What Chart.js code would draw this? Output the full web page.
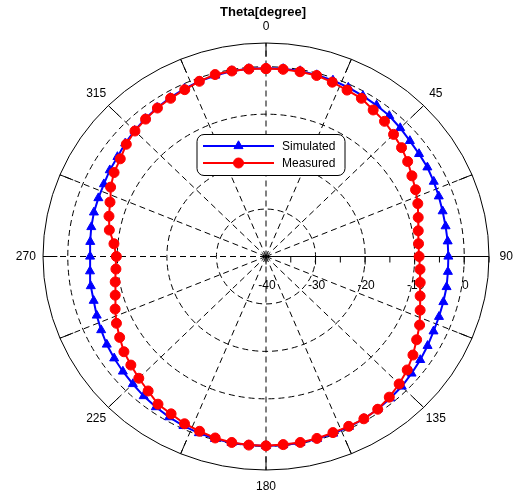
<!DOCTYPE html>
<html>
<head>
<meta charset="utf-8">
<script src="https://cdn.jsdelivr.net/npm/chart.js@4/dist/chart.umd.min.js"></script>
<style>
  html, body { margin: 0; padding: 0; background: #fff; }
  #wrap { width: 517px; height: 496px; }
</style>
</head>
<body>
<div id="wrap"><canvas id="c" width="517" height="496"></canvas></div>
<script>
// Azimuth angles (degrees, clockwise from top)
const angles = [
  0, 5, 10, 15, 20, 25, 30, 35, 40, 45, 50, 55, 60, 65, 70, 75, 80, 85,
  90, 95, 100, 105, 110, 115, 120, 125, 130, 135, 140, 145, 150, 155, 160, 165, 170, 175,
  180, 185, 190, 195, 200, 205, 210, 215, 220, 225, 230, 235, 240, 245, 250, 255, 260, 265,
  270, 275, 280, 285, 290, 295, 300, 305, 310, 315, 320, 325, 330, 335, 340, 345, 350, 355
];

// Normalized pattern (dB)
const simulated = [
  -0.3, -0.3, -0.3, -0.4, -0.5, -0.7, -0.9, -1.1, -1.3, -1.7, -2.1, -2.3, -2.4, -2.65, -2.9, -3.1, -3.2, -3.2,
  -3.2, -3.15, -3.0, -2.95, -2.85, -2.7, -2.35, -2.0, -1.65, -1.25, -1.0, -0.7, -0.5, -0.4, -0.3, -0.2, -0.1, -0.1,
  -0.05, -0.1, -0.1, -0.2, -0.4, -0.6, -0.9, -1.25, -1.6, -2.0, -2.3, -2.6, -2.9, -3.3, -3.65, -4.0, -4.1, -4.35,
  -4.5, -4.4, -4.2, -4.05, -4.0, -3.9, -3.6, -3.4, -2.9, -2.5, -2.1, -1.7, -1.35, -1.0, -0.7, -0.5, -0.3, -0.3
];
const measured = [
  -0.4, -0.4, -0.45, -0.5, -0.9, -1.3, -1.5, -2.3, -2.8, -3.6, -4.3, -5.1, -6.0, -6.7, -7.4, -8.2, -8.8, -9.1,
  -9.1, -8.8, -8.4, -7.8, -6.9, -5.8, -4.9, -3.8, -2.8, -2.0, -1.3, -0.7, -0.5, -0.5, -0.5, -0.3, -0.2, -0.2,
  -0.1, -0.1, -0.2, -0.4, -0.8, -1.1, -1.7, -2.0, -3.0, -3.7, -4.4, -5.0, -5.9, -6.7, -7.6, -8.5, -9.1, -9.6,
  -9.8, -9.2, -7.9, -7.2, -6.5, -5.4, -4.6, -4.1, -3.2, -2.6, -2.2, -1.8, -1.5, -1.2, -0.7, -0.3, -0.3, -0.35
];

// Radial axis (dB) and angular axis labels
const radialTicks = [-40, -30, -20, -10, 0];
const radialMinorTicks = [-35, -25, -15, -5, 5];
const angleLabels = [0, 45, 90, 135, 180, 225, 270, 315];
const outerTickAngles = [0, 22.5, 45, 67.5, 90, 112.5, 135, 157.5, 180, 202.5, 225, 247.5, 270, 292.5, 315, 337.5];
const spokeAngles = outerTickAngles;
const R_MIN = -40, R_MAX = 5;
const SPAN = R_MAX - R_MIN;

// polar (angle, dB) -> cartesian data coordinates
function polar(deg, db) {
  const r = db - R_MIN;
  const a = deg * Math.PI / 180;
  return { x: r * Math.sin(a), y: r * Math.cos(a) };
}
function closedSeries(values) {
  const pts = angles.map((a, i) => polar(a, values[i]));
  pts.push(pts[0]);
  return pts;
}

const polarFrame = {
  id: 'polarFrame',
  beforeDatasetsDraw(chart) {
    const ctx = chart.ctx;
    const xs = chart.scales.x, ys = chart.scales.y;
    const cx = xs.getPixelForValue(0), cy = ys.getPixelForValue(0);
    const px = (deg, r) => {
      const a = deg * Math.PI / 180;
      return [xs.getPixelForValue(r * Math.sin(a)), ys.getPixelForValue(r * Math.cos(a))];
    };
    const rx = r => xs.getPixelForValue(r) - cx;
    const ry = r => cy - ys.getPixelForValue(r);

    ctx.save();
    ctx.strokeStyle = '#000';
    ctx.lineWidth = 1;

    // dashed rings
    ctx.setLineDash([6, 4]);
    radialTicks.forEach(t => {
      const r = t - R_MIN;
      if (r <= 0) return;
      ctx.beginPath();
      ctx.ellipse(cx, cy, rx(r), ry(r), 0, 0, Math.PI * 2);
      ctx.stroke();
    });
    // dashed spokes
    spokeAngles.forEach(a => {
      if (a === 90) return;
      const [x1, y1] = px(a, SPAN);
      ctx.beginPath();
      ctx.moveTo(cx, cy);
      ctx.lineTo(x1, y1);
      ctx.stroke();
    });
    ctx.setLineDash([]);

    // outer ring
    ctx.beginPath();
    ctx.ellipse(cx, cy, rx(SPAN), ry(SPAN), 0, 0, Math.PI * 2);
    ctx.stroke();

    // outer ticks, pointing inward
    outerTickAngles.forEach(a => {
      const [x0, y0] = px(a, SPAN);
      const [x1, y1] = px(a, SPAN - 2.9);
      ctx.beginPath();
      ctx.moveTo(x0, y0);
      ctx.lineTo(x1, y1);
      ctx.stroke();
    });

    // solid radial axis at 90 degrees
    const [ax, ay] = px(90, SPAN);
    ctx.beginPath();
    ctx.moveTo(cx, cy);
    ctx.lineTo(ax, ay);
    ctx.stroke();
    radialTicks.concat(radialMinorTicks).forEach(t => {
      const x = xs.getPixelForValue(t - R_MIN);
      const major = radialTicks.includes(t);
      ctx.beginPath();
      ctx.moveTo(x, cy);
      ctx.lineTo(x, cy + (major ? 8 : 6));
      ctx.stroke();
    });

    // radial tick labels
    ctx.fillStyle = '#000';
    ctx.font = '12px "Liberation Sans", Arial, sans-serif';
    ctx.textAlign = 'center';
    ctx.textBaseline = 'middle';
    radialTicks.forEach(t => {
      const x = xs.getPixelForValue(t - R_MIN);
      ctx.fillText(String(t), x + 1, cy + 29);
    });

    // angular labels
    angleLabels.forEach(a => {
      const [x, y] = px(a, SPAN * 1.077);
      ctx.fillText(String(a), x, y);
    });

    // title
    ctx.font = 'bold 13px "Liberation Sans", Arial, sans-serif';
    ctx.textBaseline = 'alphabetic';
    ctx.fillText('Theta[degree]', 263, 16);
    ctx.restore();
  },
  afterDatasetsDraw(chart) {
    const ctx = chart.ctx;
    const box = { x: 197, y: 134.5, w: 148, h: 41, r: 7 };
    ctx.save();
    ctx.beginPath();
    ctx.roundRect(box.x, box.y, box.w, box.h, box.r);
    ctx.fillStyle = '#fff';
    ctx.fill();
    ctx.strokeStyle = '#000';
    ctx.lineWidth = 1;
    ctx.stroke();

    ctx.font = '12px "Liberation Sans", Arial, sans-serif';
    ctx.textAlign = 'left';
    ctx.textBaseline = 'middle';
    chart.data.datasets.forEach((ds, i) => {
      const y = 146 + i * 17;
      ctx.strokeStyle = ds.borderColor;
      ctx.fillStyle = ds.backgroundColor;
      ctx.lineWidth = 2;
      ctx.beginPath();
      ctx.moveTo(203, y);
      ctx.lineTo(274, y);
      ctx.stroke();
      ctx.lineWidth = 1;
      Chart.helpers.drawPoint(ctx, {
        pointStyle: ds.pointStyle,
        radius: ds.pointRadius,
        borderWidth: 1
      }, 238.5, y);
      ctx.fillStyle = '#000';
      ctx.fillText(ds.label, 282, y + 0.5);
    });
    ctx.restore();
  }
};

new Chart(document.getElementById('c'), {
  type: 'scatter',
  data: {
    datasets: [
      {
        label: 'Simulated',
        data: closedSeries(simulated),
        showLine: true,
        borderColor: '#0000ff',
        backgroundColor: '#0000ff',
        borderWidth: 2,
        pointStyle: 'triangle',
        pointRadius: 5.2,
        pointBorderWidth: 1,
        order: 2
      },
      {
        label: 'Measured',
        data: closedSeries(measured),
        showLine: true,
        borderColor: '#ff0000',
        backgroundColor: '#ff0000',
        borderWidth: 2,
        pointStyle: 'circle',
        pointRadius: 5,
        pointBorderWidth: 1,
        order: 1
      }
    ]
  },
  options: {
    responsive: false,
    animation: false,
    devicePixelRatio: 1,
    layout: { padding: { left: 43, right: 28, top: 43, bottom: 26 } },
    scales: {
      x: { type: 'linear', min: -SPAN, max: SPAN, display: false },
      y: { type: 'linear', min: -SPAN, max: SPAN, display: false }
    },
    plugins: { legend: { display: false }, tooltip: { enabled: false } }
  },
  plugins: [polarFrame]
});
</script>
</body>
</html>
